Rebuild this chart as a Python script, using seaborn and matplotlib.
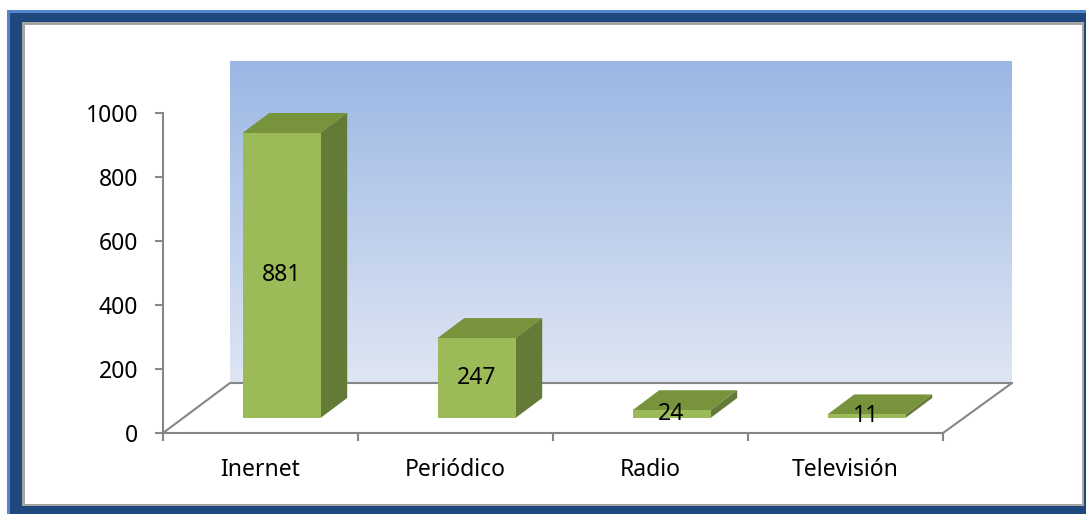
import numpy as np
import pandas as pd
import seaborn as sns
import matplotlib.pyplot as plt
from matplotlib.patches import Rectangle, Polygon
from matplotlib.transforms import IdentityTransform

categories = ["Inernet", "Periódico", "Radio", "Televisión"]
values = [881, 247, 24, 11]
y_ticks = [0, 200, 400, 600, 800, 1000]

W, H = 1086, 514
sns.set_theme(style="white")
plt.rcParams["font.family"] = ["Noto Sans", "DejaVu Sans"]

fig = plt.figure(figsize=(W / 100, H / 100), dpi=100)
fig.patch.set_facecolor("white")


def box(l, t, r, b):
    # pixel box -> figure fraction rect
    return [l / W, 1 - b / H, (r - l) / W, (b - t) / H]


grey = "#868686"
fs = 16.5

# background: frame, back wall, floor (pixel coords)
bg = fig.add_axes([0, 0, 1, 1])
bg.set_xlim(0, W)
bg.set_ylim(H, 0)
bg.axis("off")
bg.add_patch(Rectangle((7, 10), W - 7, H - 10, color="#4f86cf", lw=0))
bg.add_patch(Rectangle((10, 13), W - 10, H - 13, color="#1f497d", lw=0))
bg.add_patch(Rectangle((22, 22), 1062, 484, color="#a6a6a6", lw=0))
bg.add_patch(Rectangle((25, 25), 1057, 479, color="white", lw=0))

grad = np.linspace(0, 1, 256).reshape(-1, 1)
top_c = np.array([155, 183, 228]) / 255
bot_c = np.array([223, 230, 243]) / 255
img = top_c + grad[..., None] * (bot_c - top_c)
img = img.reshape(256, 1, 3)
bg.imshow(img, extent=(230, 1012, 383, 61), aspect="auto", zorder=1)

bg.plot([163, 230], [433, 383], color=grey, lw=1.5, zorder=2)
bg.plot([230, 1012], [383, 383], color=grey, lw=1.5, zorder=2)
bg.plot([943, 1012], [433, 383], color=grey, lw=1.5, zorder=2)

# front plane: value axis and category labels
ax = fig.add_axes(box(163, 113, 943, 433))
ax.set_facecolor("none")
ax.set_xlim(-0.5, 3.5)
ax.set_ylim(0, 1000)
ax.set_yticks(y_ticks)
ax.set_xticks([-0.5, 0.5, 1.5, 2.5, 3.5], labels=[""] * 5)
ax.set_xticks(range(len(categories)), labels=categories, minor=True)
for s in ["top", "right"]:
    ax.spines[s].set_visible(False)
for s in ["left", "bottom"]:
    ax.spines[s].set_color(grey)
    ax.spines[s].set_linewidth(1.5)
ax.tick_params(axis="y", which="major", length=6, width=1.5, color=grey,
               left=True, pad=12, labelsize=fs, labelcolor="black")
ax.tick_params(axis="x", which="major", length=6, width=1.5, color=grey,
               bottom=True, direction="out")
ax.tick_params(axis="x", which="minor", length=0, pad=18, labelsize=fs,
               labelcolor="black")
ax.grid(False)

# bars in the mid-depth plane
bax = fig.add_axes(box(184, 94.5, 964, 418))
bax.set_facecolor("none")
df = pd.DataFrame({"medio": categories, "total": values})
sns.barplot(data=df, x="medio", y="total", ax=bax, width=0.4,
            color="#9bbb59", saturation=1, edgecolor="none", zorder=3)
bax.set_xlim(-0.5, 3.5)
bax.set_ylim(0, 1000)
bax.axis("off")

dx, dy = 26.7, 20.0  # depth of bars in pixels
for p in bax.patches:
    x0, y0 = p.get_x(), p.get_y()
    x1, y1 = x0 + p.get_width(), y0 + p.get_height()
    (X0, Y0), (X1, Y1) = bax.transData.transform([(x0, y0), (x1, y1)])
    top = Polygon([(X0, Y1), (X1, Y1), (X1 + dx, Y1 + dy), (X0 + dx, Y1 + dy)],
                  closed=True, facecolor="#77933c", edgecolor="none",
                  transform=IdentityTransform(), zorder=2)
    side = Polygon([(X1, Y0), (X1 + dx, Y0 + dy), (X1 + dx, Y1 + dy), (X1, Y1)],
                   closed=True, facecolor="#647a37", edgecolor="none",
                   transform=IdentityTransform(), zorder=2)
    bax.add_patch(top)
    bax.add_patch(side)

bax.bar_label(bax.containers[0], labels=[str(v) for v in values],
              label_type="center", fontsize=fs, color="black", zorder=5)

fig.savefig("out.png", dpi=100)
